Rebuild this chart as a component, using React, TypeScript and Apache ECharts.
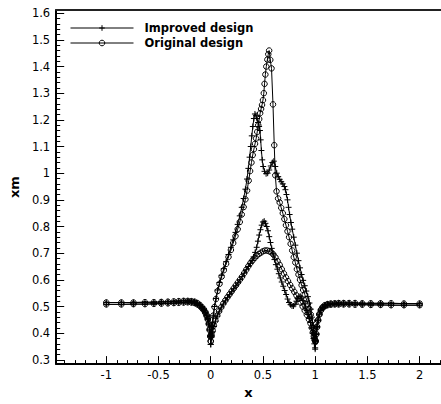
import React, { useEffect, useRef } from "react";
import * as echarts from "echarts";

const FONT = "DejaVu Sans";

// Tick labels
const xMajorTicks = [-1, -0.5, 0, 0.5, 1, 1.5, 2];
const yMajorTicks = [0.3, 0.4, 0.5, 0.6, 0.7, 0.8, 0.9, 1, 1.1, 1.2, 1.3, 1.4, 1.5, 1.6];

// Upstream (x < 0) and wake (x > 1) stations
const upstreamX = [-1, -0.856, -0.74, -0.63, -0.545, -0.473, -0.41, -0.354, -0.307, -0.26, -0.22, -0.185, -0.155, -0.128, -0.105, -0.085, -0.067, -0.052, -0.039, -0.028, -0.018, -0.01, -0.004];
const upstreamUpperY = [0.515, 0.515, 0.515, 0.516, 0.516, 0.517, 0.518, 0.519, 0.52, 0.521, 0.521, 0.52, 0.518, 0.513, 0.506, 0.498, 0.49, 0.48, 0.468, 0.455, 0.437, 0.415, 0.39];
const upstreamLowerY = [0.508, 0.508, 0.509, 0.509, 0.51, 0.511, 0.512, 0.513, 0.514, 0.515, 0.516, 0.515, 0.513, 0.508, 0.502, 0.494, 0.486, 0.476, 0.464, 0.451, 0.433, 0.411, 0.387];
const wakeX = [1.004, 1.01, 1.018, 1.028, 1.04, 1.055, 1.072, 1.092, 1.118, 1.15, 1.188, 1.225, 1.272, 1.325, 1.382, 1.451, 1.532, 1.626, 1.727, 1.85, 2.0];
const wakeUpperY = [0.372, 0.398, 0.425, 0.45, 0.472, 0.488, 0.498, 0.505, 0.509, 0.511, 0.512, 0.513, 0.513, 0.513, 0.513, 0.512, 0.512, 0.512, 0.512, 0.511, 0.511];
const wakeLowerY = [0.368, 0.395, 0.422, 0.447, 0.469, 0.485, 0.495, 0.501, 0.505, 0.507, 0.508, 0.508, 0.508, 0.508, 0.507, 0.507, 0.506, 0.506, 0.505, 0.505, 0.505];

// Blade surfaces [x, xm]
const improvedUpper: [number, number][] = [[0, 0.358], [0.006, 0.39], [0.014, 0.428], [0.024, 0.465], [0.036, 0.5], [0.05, 0.53], [0.066, 0.562], [0.084, 0.59], [0.104, 0.617], [0.125, 0.642], [0.147, 0.668], [0.17, 0.695], [0.193, 0.722], [0.215, 0.75], [0.237, 0.778], [0.258, 0.808], [0.278, 0.84], [0.297, 0.872], [0.315, 0.905], [0.332, 0.94], [0.347, 0.978], [0.36, 1.018], [0.372, 1.06], [0.383, 1.1], [0.393, 1.14], [0.403, 1.175], [0.413, 1.205], [0.423, 1.222], [0.433, 1.217], [0.443, 1.205], [0.453, 1.19], [0.463, 1.175], [0.471, 1.16], [0.478, 1.125], [0.485, 1.085], [0.493, 1.05], [0.502, 1.025], [0.515, 1.007], [0.53, 0.998], [0.545, 1.0], [0.56, 1.012], [0.575, 1.027], [0.59, 1.04], [0.604, 1.045], [0.618, 1.025], [0.632, 1.0], [0.646, 0.987], [0.66, 0.977], [0.675, 0.968], [0.69, 0.96], [0.705, 0.95], [0.715, 0.938], [0.725, 0.92], [0.735, 0.9], [0.745, 0.872], [0.755, 0.845], [0.768, 0.815], [0.78, 0.79], [0.795, 0.76], [0.81, 0.73], [0.825, 0.7], [0.84, 0.672], [0.855, 0.645], [0.87, 0.62], [0.885, 0.598], [0.9, 0.578], [0.915, 0.558], [0.93, 0.537], [0.945, 0.513], [0.958, 0.49], [0.97, 0.46], [0.98, 0.43], [0.988, 0.4], [0.994, 0.372], [1.0, 0.345]];
const improvedLower: [number, number][] = [[0, 0.358], [0.008, 0.385], [0.018, 0.405], [0.03, 0.425], [0.045, 0.445], [0.062, 0.464], [0.08, 0.48], [0.1, 0.495], [0.12, 0.509], [0.14, 0.521], [0.16, 0.533], [0.18, 0.544], [0.2, 0.555], [0.22, 0.566], [0.24, 0.577], [0.26, 0.588], [0.28, 0.6], [0.3, 0.612], [0.32, 0.625], [0.34, 0.638], [0.36, 0.65], [0.38, 0.662], [0.395, 0.672], [0.41, 0.686], [0.425, 0.703], [0.44, 0.722], [0.452, 0.745], [0.464, 0.768], [0.476, 0.788], [0.488, 0.805], [0.5, 0.817], [0.512, 0.82], [0.524, 0.812], [0.536, 0.8], [0.548, 0.784], [0.56, 0.762], [0.572, 0.74], [0.584, 0.718], [0.596, 0.698], [0.61, 0.676], [0.624, 0.657], [0.638, 0.64], [0.652, 0.623], [0.666, 0.607], [0.68, 0.592], [0.694, 0.576], [0.708, 0.56], [0.722, 0.545], [0.736, 0.528], [0.75, 0.515], [0.764, 0.507], [0.778, 0.502], [0.792, 0.502], [0.806, 0.508], [0.82, 0.52], [0.832, 0.53], [0.845, 0.537], [0.858, 0.538], [0.87, 0.532], [0.882, 0.522], [0.895, 0.51], [0.908, 0.498], [0.92, 0.485], [0.932, 0.47], [0.944, 0.455], [0.955, 0.44], [0.965, 0.42], [0.975, 0.4], [0.984, 0.38], [0.992, 0.36], [1.0, 0.34]];
const originalUpper: [number, number][] = [[0, 0.37], [0.006, 0.398], [0.014, 0.432], [0.024, 0.466], [0.036, 0.498], [0.05, 0.528], [0.066, 0.558], [0.084, 0.585], [0.104, 0.612], [0.125, 0.636], [0.147, 0.66], [0.17, 0.686], [0.193, 0.712], [0.215, 0.738], [0.237, 0.764], [0.258, 0.79], [0.278, 0.817], [0.297, 0.845], [0.315, 0.873], [0.332, 0.902], [0.348, 0.935], [0.363, 0.972], [0.377, 1.008], [0.39, 1.04], [0.402, 1.068], [0.413, 1.09], [0.424, 1.11], [0.435, 1.13], [0.445, 1.155], [0.455, 1.18], [0.464, 1.203], [0.473, 1.225], [0.482, 1.241], [0.491, 1.256], [0.5, 1.274], [0.508, 1.3], [0.515, 1.335], [0.523, 1.37], [0.532, 1.4], [0.542, 1.426], [0.551, 1.446], [0.559, 1.46], [0.57, 1.425], [0.582, 1.393], [0.596, 1.258], [0.608, 1.105], [0.618, 0.992], [0.63, 0.932], [0.645, 0.905], [0.66, 0.89], [0.675, 0.87], [0.69, 0.85], [0.705, 0.828], [0.72, 0.805], [0.735, 0.782], [0.75, 0.76], [0.765, 0.735], [0.78, 0.71], [0.795, 0.685], [0.81, 0.665], [0.825, 0.64], [0.84, 0.62], [0.855, 0.6], [0.87, 0.58], [0.885, 0.562], [0.9, 0.545], [0.915, 0.528], [0.93, 0.51], [0.945, 0.49], [0.958, 0.47], [0.97, 0.445], [0.98, 0.42], [0.988, 0.4], [0.994, 0.385], [1.0, 0.372]];
const originalLower: [number, number][] = [[0, 0.37], [0.008, 0.39], [0.018, 0.41], [0.03, 0.428], [0.045, 0.447], [0.062, 0.466], [0.08, 0.482], [0.1, 0.497], [0.12, 0.511], [0.14, 0.523], [0.16, 0.535], [0.18, 0.546], [0.2, 0.557], [0.22, 0.568], [0.24, 0.579], [0.26, 0.59], [0.28, 0.601], [0.3, 0.612], [0.32, 0.625], [0.34, 0.638], [0.36, 0.651], [0.38, 0.663], [0.4, 0.673], [0.42, 0.682], [0.44, 0.69], [0.46, 0.697], [0.48, 0.702], [0.5, 0.707], [0.52, 0.71], [0.54, 0.71], [0.56, 0.707], [0.58, 0.703], [0.6, 0.695], [0.62, 0.684], [0.64, 0.67], [0.66, 0.656], [0.68, 0.64], [0.7, 0.624], [0.72, 0.609], [0.74, 0.595], [0.76, 0.581], [0.78, 0.568], [0.8, 0.555], [0.82, 0.542], [0.84, 0.529], [0.86, 0.515], [0.88, 0.5], [0.9, 0.485], [0.92, 0.469], [0.94, 0.452], [0.955, 0.437], [0.968, 0.42], [0.978, 0.403], [0.987, 0.388], [0.994, 0.377], [1.0, 0.37]];

const X_MIN = -1.48;
const X_MAX = 2.2;
const Y_MIN = 0.284;
const Y_MAX = 1.612;

const zip = (xs: number[], ys: number[]): [number, number][] => xs.map((x, i) => [x, ys[i]]);

const PLUS = "path://M0,5L10,5M5,0L5,10";

export default function App() {
  const ref = useRef<HTMLDivElement>(null);
  useEffect(() => {
    if (!ref.current) return;
    const chart = echarts.init(ref.current, null, { renderer: "svg" });

    const xMinor: number[] = [];
    for (let i = -14; i <= 22; i++) xMinor.push(i / 10);
    const yMinor: number[] = [];
    for (let i = 15; i <= 80; i++) yMinor.push(i / 50);

    const mk = (name: string, blade: [number, number][], up: number[], wake: number[], symbol: string, size: number) => ({
      type: "line",
      name,
      data: [...zip(upstreamX, up), ...blade, ...zip(wakeX, wake)],
      symbol,
      symbolSize: size,
      showSymbol: true,
      showAllSymbol: true,
      silent: true,
      emphasis: { disabled: true },
      lineStyle: { color: "#000", width: 1 },
      itemStyle: { color: "transparent", borderColor: "#000", borderWidth: 1 },
    });

    const labelStyle = { fontFamily: FONT, fontSize: 11.5, color: "#000" };
    const nameStyle = { fontFamily: FONT, fontSize: 13, fontWeight: "bold", color: "#000" };

    chart.setOption({
      animation: false,
      backgroundColor: "#fff",
      grid: { left: 49.3, right: 0.5, top: 10, bottom: 35.5, containLabel: false },
      legend: {
        show: true,
        orient: "vertical",
        left: 70,
        top: 22,
        padding: 0,
        itemWidth: 63,
        itemHeight: 7,
        itemGap: 3,
        selectedMode: false,
        data: ["Improved design", "Original design"],
        lineStyle: { width: 1, color: "#000" },
        itemStyle: { color: "transparent", borderColor: "#000", borderWidth: 1 },
        textStyle: { fontFamily: FONT, fontSize: 11.5, fontWeight: "bold", color: "#000", padding: [0, 0, 0, 6] },
      },
      xAxis: [
        {
          type: "value",
          min: X_MIN,
          max: X_MAX,
          position: "bottom",
          name: "x",
          nameLocation: "middle",
          nameGap: 17,
          nameTextStyle: nameStyle,
          axisLine: { show: true, onZero: false, lineStyle: { color: "#000", width: 2 } },
          axisTick: { show: true, inside: true, length: 8, customValues: xMajorTicks, lineStyle: { color: "#000", width: 1 } },
          axisLabel: { show: true, customValues: xMajorTicks, margin: 5, ...labelStyle, formatter: (v: number) => String(v) },
          splitLine: { show: false },
        },
        {
          type: "value",
          min: X_MIN,
          max: X_MAX,
          position: "bottom",
          axisLine: { show: false, onZero: false },
          axisTick: { show: true, inside: true, length: 4, customValues: xMinor, lineStyle: { color: "#000", width: 1 } },
          axisLabel: { show: false },
          splitLine: { show: false },
        },
        {
          type: "value",
          min: X_MIN,
          max: X_MAX,
          position: "top",
          axisLine: { show: true, onZero: false, lineStyle: { color: "#222", width: 2 } },
          axisTick: { show: false },
          axisLabel: { show: false },
          splitLine: { show: false },
        },
      ],
      yAxis: [
        {
          type: "value",
          min: Y_MIN,
          max: Y_MAX,
          position: "left",
          name: "xm",
          nameLocation: "middle",
          nameGap: 31,
          nameTextStyle: nameStyle,
          axisLine: { show: true, onZero: false, lineStyle: { color: "#000", width: 2 } },
          axisTick: { show: true, inside: true, length: 8, customValues: yMajorTicks, lineStyle: { color: "#000", width: 1 } },
          axisLabel: { show: true, customValues: yMajorTicks, margin: 6, ...labelStyle, formatter: (v: number) => String(Math.round(v * 10) / 10) },
          splitLine: { show: false },
        },
        {
          type: "value",
          min: Y_MIN,
          max: Y_MAX,
          position: "left",
          axisLine: { show: false, onZero: false },
          axisTick: { show: true, inside: true, length: 4, customValues: yMinor, lineStyle: { color: "#000", width: 1 } },
          axisLabel: { show: false },
          splitLine: { show: false },
        },
      ],
      series: [
        mk("Improved design", improvedUpper, upstreamUpperY, wakeUpperY, PLUS, 6),
        mk("Improved design", improvedLower, upstreamLowerY, wakeLowerY, PLUS, 6),
        mk("Original design", originalUpper, upstreamUpperY, wakeUpperY, "circle", 5.5),
        mk("Original design", originalLower, upstreamLowerY, wakeLowerY, "circle", 5.5),
      ],
    });
    return () => chart.dispose();
  }, []);
  return <div ref={ref} style={{ position: "absolute", left: 0, top: 0, width: 441, height: 404 }} />;
}
